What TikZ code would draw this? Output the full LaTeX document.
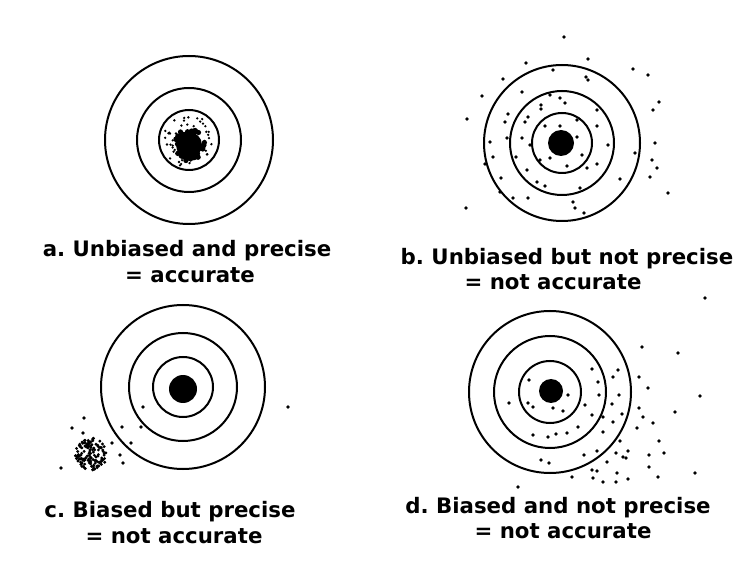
\documentclass[tikz,border=0pt]{standalone}
\usepackage{fontspec}
\setmainfont{DejaVu Sans}
\frenchspacing
\usetikzlibrary{positioning}
\tikzset{
  ring/.style={draw=black, line width=2pt},
  bullseye/.style={fill=black},
  shot/.style={fill=black},
  caption/.style={font=\fontsize{21.3}{25}\selectfont\bfseries, inner sep=0pt, anchor=base}
}

\begin{document}
\begin{tikzpicture}[x=1pt, y=-1pt]
  \fill[white] (0,0) rectangle (750,585);
  \useasboundingbox (0,0) rectangle (750,585);

  % a. unbiased and precise
  \foreach \r in {84,52,30}{
    \draw[ring] (189,140) circle[radius=\r pt];
  }
  \fill[bullseye] (189,145) circle[radius=13pt];
  \pgfmathsetseed{11}
  \foreach \i in {1,...,90}{
    \pgfmathsetmacro\ang{360*rnd}
    \pgfmathsetmacro\rad{16*sqrt(rnd)}
    \fill[shot] (189,145) ++(\ang:\rad) circle[radius=2.6pt];
  }
  \foreach \i in {1,...,45}{
    \pgfmathsetmacro\ang{360*rnd}
    \pgfmathsetmacro\rad{15+12*rnd}
    \fill[shot] (189,142) ++(\ang:\rad) circle[radius=1.3pt];
  }

  % b. unbiased but not precise
  \foreach \r in {78,52,30}{
    \draw[ring] (562,143) circle[radius=\r pt];
  }
  \fill[bullseye] (561,143) circle[radius=13pt];
  \foreach \p in {(564,37),(526,63),(588,59),(633,69),(648,75),(586,77),(588,80),
                  (503,79),(553,70),(482,96),(522,92),(550,95),(560,98),(565,103),
                  (541,105),(541,109),(659,102),(653,110),(467,119),(508,114),
                  (528,117),(505,122),(525,122),(597,110),(577,120),(597,126),
                  (560,126),(545,126),(522,138),(507,138),(490,142),(530,145),
                  (577,137),(608,145),(655,143),(635,153),(493,157),(516,157),
                  (540,160),(550,158),(582,155),(485,164),(567,166),(587,168),
                  (597,164),(652,160),(657,168),(650,177),(527,170),(501,178),
                  (537,182),(545,186),(580,188),(620,179),(500,192),(513,198),
                  (528,198),(573,202),(668,193),(466,208),(575,208),(584,213)}{
    \fill[shot] \p circle[radius=1.9pt];
  }

  % c. biased but precise
  \foreach \r in {82,54,30}{
    \draw[ring] (183,387) circle[radius=\r pt];
  }
  \fill[bullseye] (183,389) circle[radius=14pt];
  \pgfmathsetseed{5}
  \foreach \i in {1,...,130}{
    \pgfmathsetmacro\ang{360*rnd}
    \pgfmathsetmacro\rad{16*sqrt(rnd)}
    \fill[shot] (91,454) ++(\ang:\rad) circle[radius=1.6pt];
  }
  \foreach \p in {(84,418),(72,428),(83,433),(122,427),(131,443),(112,443),
                  (61,468),(120,455),(123,463),(143,407),(141,427),(288,407)}{
    \fill[shot] \p circle[radius=1.8pt];
  }

  % d. biased and not precise
  \foreach \r in {81,56,31}{
    \draw[ring] (550,392) circle[radius=\r pt];
  }
  \fill[bullseye] (551,391) circle[radius=12pt];
  \foreach \p in {(705,298),(642,347),(678,353),(592,369),(618,370),(613,377),
                  (639,377),(598,382),(648,388),(529,380),(568,395),(599,395),
                  (619,395),(700,396),(509,403),(528,403),(533,407),(553,408),
                  (563,411),(585,405),(612,404),(639,408),(643,417),(675,412),
                  (592,415),(603,417),(622,414),(653,423),(578,427),(613,422),
                  (603,432),(637,428),(533,435),(548,437),(556,434),(567,433),
                  (620,441),(659,441),(597,451),(616,453),(623,457),(628,451),
                  (584,455),(607,462),(664,453),(649,455),(626,458),(541,460),
                  (549,463),(649,467),(592,470),(597,471),(617,473),(572,477),
                  (593,478),(603,482),(616,482),(628,479),(658,477),(695,473),
                  (518,487)}{
    \fill[shot] \p circle[radius=1.9pt];
  }

  % Captions
  \node[caption] (capa) at (187,257) {a. Unbiased and precise};
  \node[caption] (capa2) at (190,283) {= accurate};
  \node[caption] (capb) at (567,265) {b. Unbiased but not precise};
  \node[caption] (capb2) at (553,290) {= not accurate};
  \node[caption] (capc) at (170,517) {c. Biased but precise};
  \node[caption] (capc2) at (174,543) {= not accurate};
  \node[caption] (capd) at (558,513) {d. Biased and not precise};
  \node[caption] (capd2) at (563,538) {= not accurate};
\end{tikzpicture}
\end{document}
